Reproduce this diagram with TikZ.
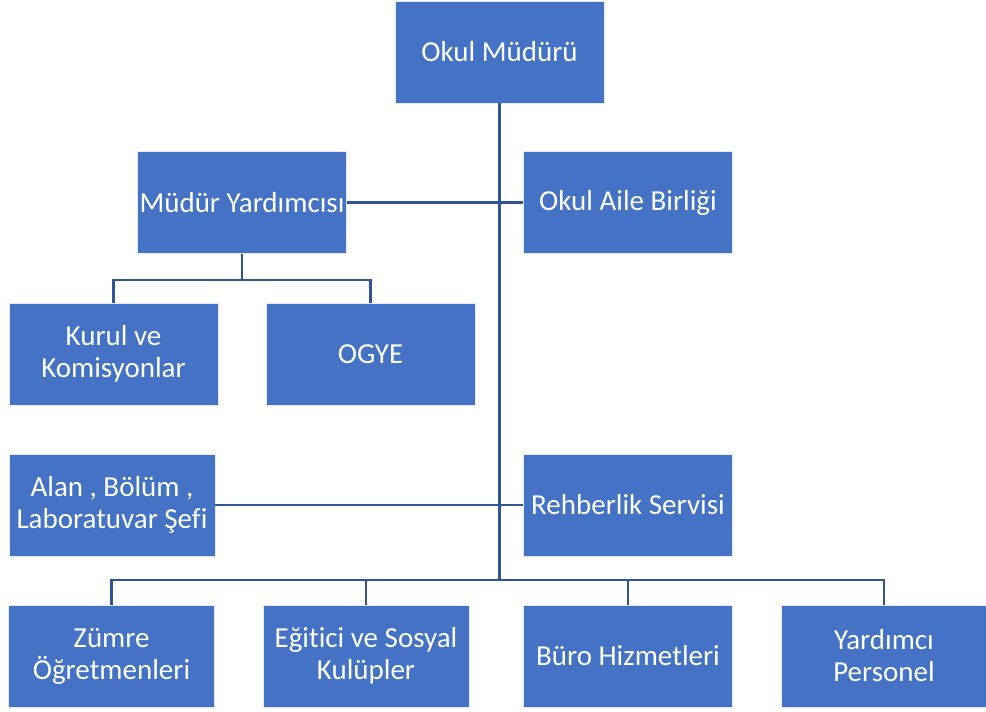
\documentclass[tikz,border=0pt]{standalone}
\usepackage{fontspec}
\setmainfont[Ligatures={NoCommon}]{Carlito}
\definecolor{boxfill}{HTML}{4472C4}
\definecolor{linec}{HTML}{2F5597}
\begin{document}
\begin{tikzpicture}[x=0.75pt,y=-0.75pt,
  orgbox/.style={rectangle, fill=boxfill, draw=white!85!boxfill, line width=0.6pt,
    minimum height=76.5pt, inner sep=0pt, text=white, align=center,
    font=\fontsize{21.75}{24}\selectfont},
  w209/.style={minimum width=156.75pt},
  w206/.style={minimum width=154.5pt},
  conn/.style={draw=linec, line width=2pt}]
\useasboundingbox (0,0) rectangle (986,711);
\node[orgbox,w209] (om) at (499.5,52) {Okul Müdürü};
\node[orgbox,w209] (my) at (242,202.5) {Müdür Yardımcısı};
\node[orgbox,w209] (oab) at (628,202.5) {Okul Aile Birliği};
\node[orgbox,w209] (kk) at (113.5,354) {Kurul ve\\Komisyonlar};
\node[orgbox,w209] (ogye) at (370.5,354) {OGYE};
\node[orgbox,w206] (alan) at (112,505) {Alan , Bölüm ,\\Laboratuvar Şefi};
\node[orgbox,w209] (reh) at (628,505) {Rehberlik Servisi};
\node[orgbox,w206] (zo) at (111.5,656) {Zümre\\Öğretmenleri};
\node[orgbox,w206] (eg) at (366,656) {Eğitici ve Sosyal\\Kulüpler};
\node[orgbox,w209] (buro) at (628,656) {Büro Hizmetleri};
\node[orgbox,w206] (yp) at (884,656) {Yardımcı\\Personel};
\coordinate (bus) at (499.5,580);
\coordinate (mybus) at (242,280);
\draw[conn] (om.south) -- (bus);
\draw[conn] (my.east) -- (oab.west);
\draw[conn] (alan.east) -- (reh.west);
\draw[conn] (my.south) -- (mybus);
\draw[conn] (kk.north) |- (mybus) -| (ogye.north);
\draw[conn] (zo.north) |- (bus) -| (yp.north);
\draw[conn] (eg.north) -- (eg.north |- bus);
\draw[conn] (buro.north) -- (buro.north |- bus);
\end{tikzpicture}
\end{document}
